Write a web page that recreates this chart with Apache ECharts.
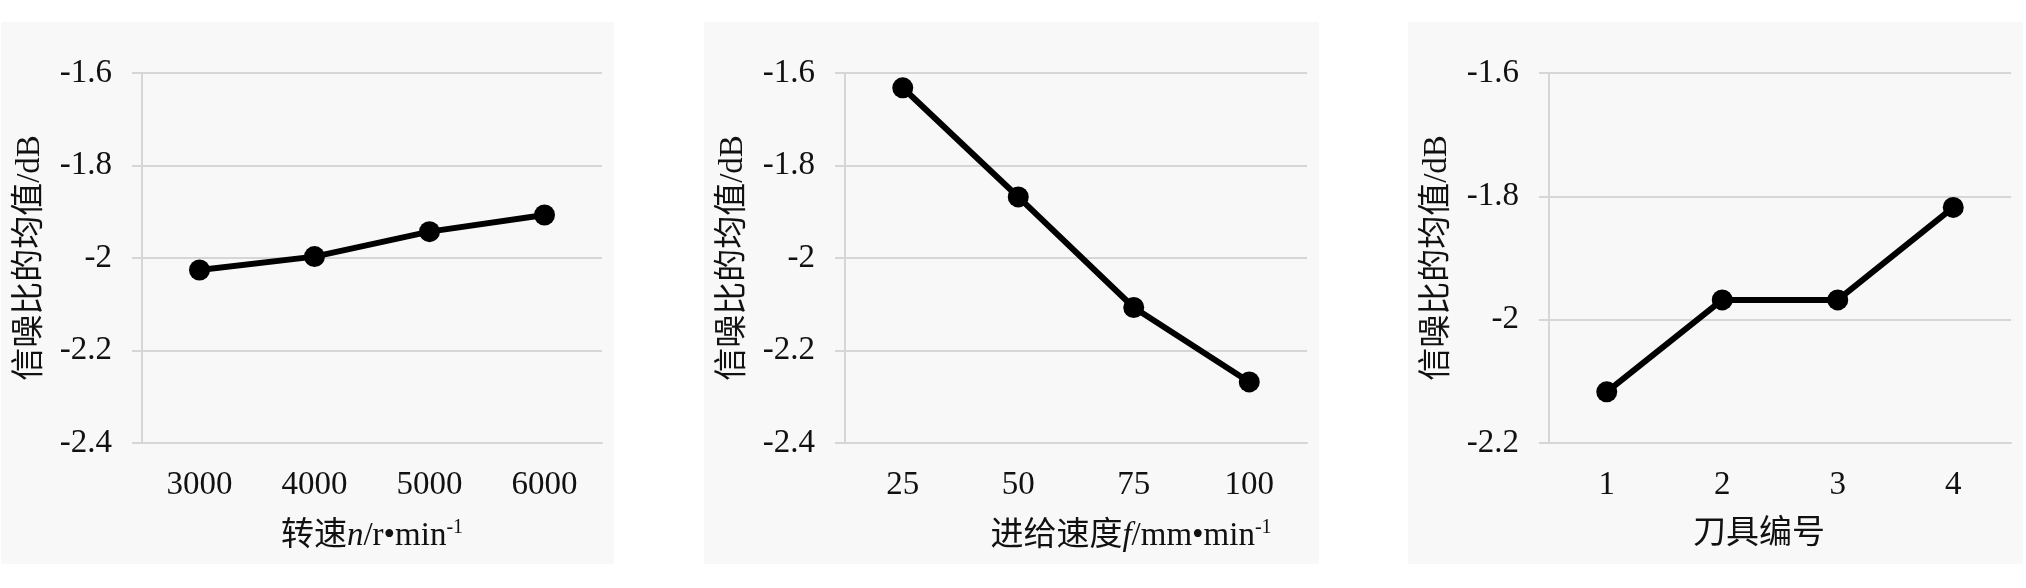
<!DOCTYPE html>
<html>
<head>
<meta charset="utf-8">
<script src="https://cdn.jsdelivr.net/npm/echarts@6/dist/echarts.min.js"></script>
<style>
  html, body { margin: 0; padding: 0; background: #ffffff; width: 2026px; height: 588px; overflow: hidden; }
  .panel { position: absolute; top: 22px; height: 542px; background: #f8f8f8; }
</style>
</head>
<body>
<div id="p1" class="panel" style="left:1px;width:613px;"></div>
<div id="p2" class="panel" style="left:704px;width:615px;"></div>
<div id="p3" class="panel" style="left:1408px;width:615px;"></div>
<script>
// ---- data ----
const speedCategories = ['3000', '4000', '5000', '6000'];
const speedValues = [-2.026, -1.997, -1.943, -1.907];

const feedCategories = ['25', '50', '75', '100'];
const feedValues = [-1.632, -1.868, -2.107, -2.268];

const toolCategories = ['1', '2', '3', '4'];
const toolValues = [-2.117, -1.968, -1.968, -1.818];

const yTitle = '信噪比的均值/dB';
const speedTitle = ['转速', 'n', '/r•min', '-1'];
const feedTitle = ['进给速度', 'f', '/mm•min', '-1'];
const toolTitle = '刀具编号';

// ---- styling ----
const FONT = "'Liberation Serif', 'Times New Roman', 'Noto Sans CJK SC', serif";
const TXT = '#111111';
const GRID = '#d6d6d6';
const NAME_SIZE = 33;

function richName(parts) {
  return '{c|' + parts[0] + '}{i|' + parts[1] + '}{c|' + parts[2] + '}{s|' + parts[3] + '}';
}

function makeOption(cats, vals, yMin, xName, xShift) {
  return {
    animation: false,
    grid: { left: 141, right: 12, top: 51, bottom: 121, containLabel: false },
    xAxis: {
      type: 'category',
      data: cats,
      boundaryGap: true,
      axisLine: { show: true, lineStyle: { color: GRID, width: 2 } },
      axisTick: { show: false },
      axisLabel: { color: TXT, fontFamily: FONT, fontSize: 33, margin: 26 },
      name: xName,
      nameLocation: 'middle',
      nameGap: 75,
      nameTextStyle: {
        color: TXT, fontFamily: FONT, fontSize: NAME_SIZE,
        padding: xShift >= 0 ? [0, 0, 0, 2 * xShift] : [0, -2 * xShift, 0, 0],
        rich: {
          c: { color: TXT, fontFamily: FONT, fontSize: NAME_SIZE },
          i: { color: TXT, fontFamily: FONT, fontSize: NAME_SIZE, fontStyle: 'italic' },
          s: { color: TXT, fontFamily: FONT, fontSize: 20, verticalAlign: 'top', lineHeight: 36 }
        }
      }
    },
    yAxis: {
      type: 'value',
      min: yMin,
      max: -1.6,
      interval: 0.2,
      axisLine: { show: true, lineStyle: { color: GRID, width: 2 } },
      axisTick: { show: true, length: 10, lineStyle: { color: GRID, width: 2 } },
      splitLine: { show: true, lineStyle: { color: GRID, width: 2 } },
      axisLabel: {
        color: TXT, fontFamily: FONT, fontSize: 33, margin: 30,
        formatter: v => String(Math.round(v * 10) / 10)
      },
      name: yTitle,
      nameLocation: 'middle',
      nameGap: 95,
      nameTextStyle: { color: TXT, fontFamily: FONT, fontSize: NAME_SIZE }
    },
    series: [{
      type: 'line',
      data: vals,
      symbol: 'circle',
      symbolSize: 21,
      lineStyle: { color: '#000000', width: 6 },
      itemStyle: { color: '#000000' }
    }]
  };
}

const c1 = echarts.init(document.getElementById('p1'));
c1.setOption(makeOption(speedCategories, speedValues, -2.4, richName(speedTitle), 0));
const c2 = echarts.init(document.getElementById('p2'));
c2.setOption(makeOption(feedCategories, feedValues, -2.4, richName(feedTitle), 55));
const c3 = echarts.init(document.getElementById('p3'));
c3.setOption(makeOption(toolCategories, toolValues, -2.2, toolTitle, -21));
</script>
</body>
</html>
